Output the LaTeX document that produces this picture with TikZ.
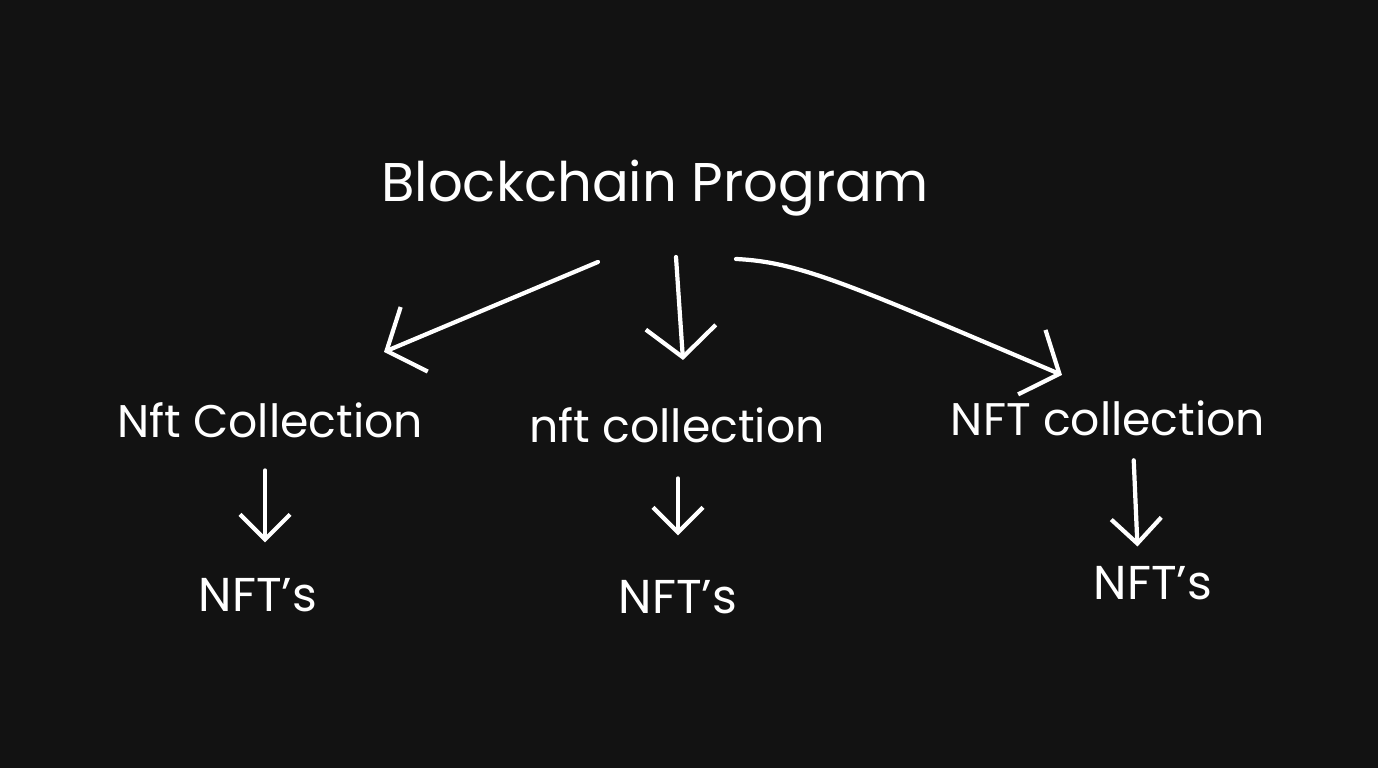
\documentclass[tikz,border=0pt]{standalone}
\usepackage{fontspec}
\setmainfont{Poppins}
\usetikzlibrary{arrows.meta}
\definecolor{bg}{HTML}{121212}
\begin{document}
\begin{tikzpicture}[x=0.01cm,y=-0.01cm,
  lbl/.style={text=white,inner sep=2pt},
  conn/.style={draw=white,line width=1.2pt,line cap=round,-{Straight Barb[length=3mm,width=7mm,line width=1.2pt]}},
  small/.style={conn,-{Straight Barb[length=2.5mm,width=5mm,line width=1.2pt]}}]
\fill[bg] (0,0) rectangle (1378,768);
\useasboundingbox (0,0) rectangle (1378,768);
\node[lbl,font=\fontsize{15.5}{18}\selectfont] (top) at (655,188) {Blockchain Program};
\node[lbl,font=\fontsize{13}{16}\selectfont] (c1) at (270,420) {Nft Collection};
\node[lbl,font=\fontsize{13}{16}\selectfont] (c2) at (677,425) {nft collection};
\node[lbl,font=\fontsize{13}{16}\selectfont] (c3) at (1108,418) {NFT collection};
\node[lbl,font=\fontsize{13.5}{16}\selectfont] (n1) at (258,595) {NFT's};
\node[lbl,font=\fontsize{13.5}{16}\selectfont] (n2) at (678,597) {NFT's};
\node[lbl,font=\fontsize{13.5}{16}\selectfont] (n3) at (1153,583) {NFT's};
\coordinate (a1s) at (598,262);
\coordinate (a1e) at (384,352);
\coordinate (a2s) at (676,257);
\coordinate (a2e) at (683,360);
\coordinate (a3s) at (736,259);
\coordinate (a3e) at (1062,375);
\draw[conn] (a1s) -- (a1e);
\draw[conn] (a2s) -- (a2e);
\draw[conn] (a3s) .. controls (800,262) and (850,285) .. (a3e);
\draw[small,shorten <=2.5mm,shorten >=2.8mm] ([xshift=2pt]n1.north |- c1.south) -- ([xshift=2pt]n1.north);
\draw[small,shorten <=2.8mm,shorten >=3.7mm] (n2.north |- c2.south) -- (n2.north);
\draw[small,shorten <=1.7mm,shorten >=1.2mm] ([xshift=-2mm]n3.north |- c3.south) -- ([xshift=-1.5mm]n3.north);
\end{tikzpicture}
\end{document}
